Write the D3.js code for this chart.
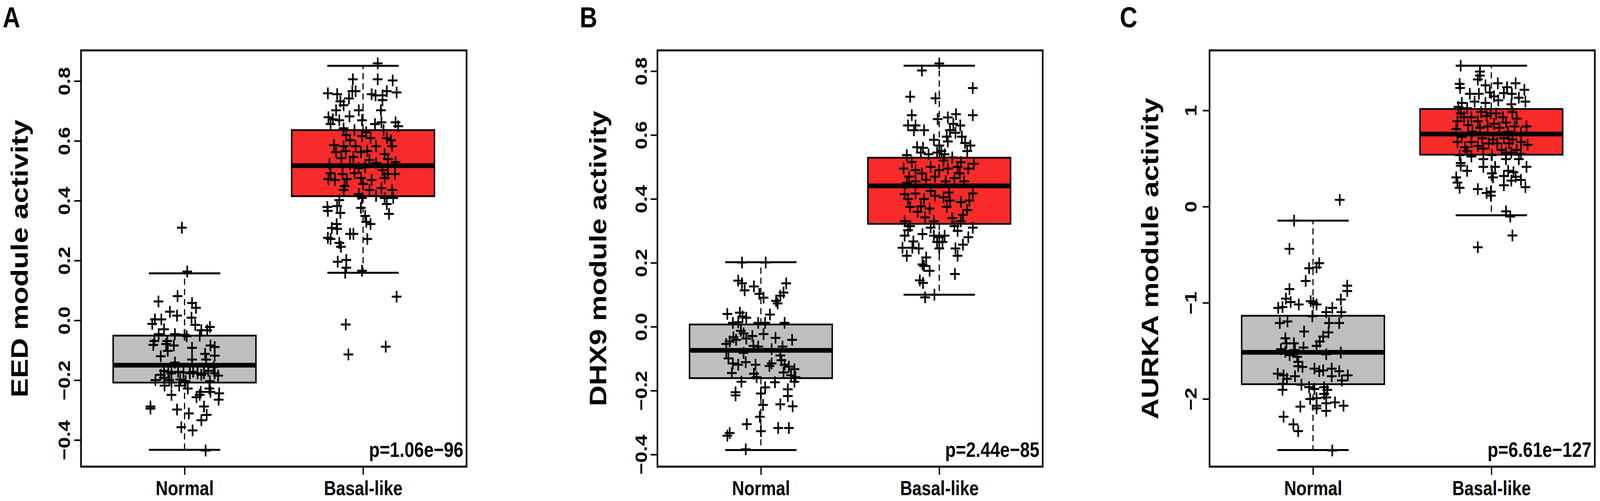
<!DOCTYPE html>
<html>
<head>
<meta charset="utf-8">
<script src="https://cdn.jsdelivr.net/npm/d3@7/dist/d3.min.js"></script>
<style>
  html, body { margin: 0; padding: 0; background: #ffffff; width: 100%; height: 100%; overflow: hidden; }
  svg { display: block; width: 100vw; height: 100vh; }
  text { font-family: "Liberation Sans", Arial, Helvetica, sans-serif; font-weight: bold; fill: #000; }
</style>
</head>
<body>
<script>
// ---------------- DATA ----------------
const categories = ["Normal", "Basal-like"];
const panelLetters = ["A", "B", "C"];
const yTitles = ["EED module activity", "DHX9 module activity", "AURKA module activity"];
const pValueLabels = ["p=1.06e\u221296", "p=2.44e\u221285", "p=6.61e\u2212127"];

const yTicksA = [-0.4, -0.2, 0.0, 0.2, 0.4, 0.6, 0.8];
const yTicksB = [-0.4, -0.2, 0.0, 0.2, 0.4, 0.6, 0.8];
const yTicksC = [-2, -1, 0, 1];
const yTickLabelsA = ["\u22120.4", "\u22120.2", "0.0", "0.2", "0.4", "0.6", "0.8"];
const yTickLabelsB = ["\u22120.4", "\u22120.2", "0.0", "0.2", "0.4", "0.6", "0.8"];
const yTickLabelsC = ["\u22122", "\u22121", "0", "1"];

// axis limits (data range extended 4%, as in R)
const yLimA = [-0.489, 0.9025];
const yLimB = [-0.438, 0.865];
const yLimC = [-2.704, 1.6245];

// box statistics: [lower whisker, Q1, median, Q3, upper whisker]
const statsA_normal = [-0.433, -0.208, -0.150, -0.051, 0.157];
const statsA_basal  = [0.159, 0.415, 0.517, 0.636, 0.851];
const statsB_normal = [-0.386, -0.161, -0.074, 0.007, 0.202];
const statsB_basal  = [0.100, 0.322, 0.441, 0.529, 0.817];
const statsC_normal = [-2.531, -1.847, -1.515, -1.135, -0.146];
const statsC_basal  = [-0.090, 0.540, 0.755, 1.015, 1.465];

// points: [horizontal jitter (group units), value]
const ptsA_normal = [[-0.015,0.310],[0.015,0.163],[-0.039,0.081],[-0.146,0.063],[0.042,0.058],[0.064,0.042],[-0.082,0.029],[-0.042,0.016],[0.039,0.009],[-0.166,0.003],[-0.130,0.003],[-0.181,-0.012],[0.060,-0.015],[0.142,-0.022],[-0.115,-0.030],[0.094,-0.033],[0.127,-0.033],[-0.145,-0.046],[-0.054,-0.046],[0.000,-0.048],[0.012,-0.053],[0.085,-0.051],[-0.169,-0.069],[-0.097,-0.069],[-0.175,-0.082],[-0.103,-0.079],[-0.060,-0.084],[0.042,-0.092],[0.145,-0.084],[0.169,-0.089],[-0.094,-0.102],[0.115,-0.112],[0.169,-0.118],[-0.133,-0.120],[0.042,-0.131],[0.121,-0.131],[-0.054,-0.141],[0.163,-0.156],[-0.115,-0.169],[-0.091,-0.172],[-0.073,-0.177],[-0.036,-0.172],[-0.006,-0.174],[0.030,-0.177],[0.048,-0.172],[0.073,-0.177],[0.094,-0.182],[0.109,-0.177],[0.133,-0.169],[0.169,-0.177],[0.188,-0.185],[-0.133,-0.182],[-0.115,-0.192],[-0.163,-0.200],[-0.085,-0.200],[-0.024,-0.198],[0.006,-0.203],[0.142,-0.203],[-0.073,-0.208],[-0.112,-0.218],[-0.030,-0.218],[0.018,-0.228],[0.139,-0.228],[0.091,-0.239],[0.145,-0.239],[-0.073,-0.249],[0.085,-0.249],[0.194,-0.244],[0.067,-0.257],[0.191,-0.265],[0.109,-0.288],[-0.191,-0.288],[-0.191,-0.295],[-0.042,-0.298],[0.024,-0.311],[0.124,-0.316],[0.094,-0.334],[-0.018,-0.357],[0.045,-0.368],[0.118,-0.435]];

const ptsA_basal = [[0.082,0.859],[-0.057,0.806],[0.082,0.806],[0.166,0.802],[-0.197,0.759],[-0.145,0.756],[-0.060,0.766],[-0.042,0.766],[0.048,0.756],[0.070,0.752],[0.109,0.752],[0.133,0.766],[0.188,0.762],[-0.127,0.732],[-0.079,0.742],[-0.109,0.719],[0.109,0.736],[-0.151,0.702],[-0.024,0.702],[0.100,0.702],[-0.076,0.682],[-0.194,0.679],[-0.169,0.672],[-0.133,0.669],[-0.006,0.669],[0.067,0.656],[0.103,0.662],[0.182,0.662],[0.197,0.649],[-0.182,0.656],[-0.109,0.642],[-0.048,0.636],[0.018,0.629],[0.115,0.636],[-0.094,0.619],[-0.006,0.616],[0.042,0.609],[0.133,0.609],[-0.073,0.602],[0.157,0.602],[-0.163,0.586],[-0.109,0.582],[-0.042,0.582],[0.073,0.582],[0.163,0.582],[-0.097,0.566],[-0.151,0.562],[-0.012,0.562],[0.024,0.566],[0.121,0.556],[0.139,0.539],[-0.121,0.542],[-0.054,0.546],[0.036,0.536],[-0.188,0.522],[-0.073,0.522],[0.073,0.526],[0.182,0.529],[-0.024,0.509],[0.012,0.512],[0.109,0.502],[-0.182,0.492],[-0.115,0.489],[-0.048,0.492],[0.139,0.489],[0.179,0.489],[-0.012,0.476],[-0.157,0.469],[-0.091,0.472],[0.048,0.469],[0.121,0.476],[0.000,0.456],[-0.194,0.472],[-0.103,0.449],[0.103,0.442],[0.163,0.436],[0.036,0.436],[-0.109,0.436],[-0.024,0.422],[0.073,0.416],[0.121,0.409],[0.169,0.409],[-0.006,0.409],[-0.133,0.402],[0.133,0.389],[-0.200,0.379],[-0.145,0.382],[-0.012,0.376],[0.145,0.356],[-0.197,0.366],[-0.127,0.359],[0.012,0.349],[0.018,0.329],[0.042,0.322],[-0.148,0.322],[-0.175,0.309],[-0.145,0.306],[-0.073,0.289],[-0.054,0.289],[-0.197,0.276],[-0.182,0.272],[0.024,0.272],[-0.133,0.259],[-0.124,0.246],[-0.142,0.196],[-0.094,0.202],[-0.094,0.176],[-0.100,0.159],[-0.006,0.166],[0.188,0.079],[-0.097,-0.014],[0.127,-0.088],[-0.082,-0.114]];

const ptsB_normal = [[-0.106,0.201],[0.027,0.201],[-0.127,0.144],[-0.106,0.136],[-0.091,0.114],[-0.039,0.126],[-0.009,0.103],[0.015,0.091],[0.142,0.136],[0.127,0.107],[0.109,0.097],[0.085,0.081],[0.094,0.073],[-0.188,0.040],[-0.118,0.044],[-0.103,0.032],[0.051,0.038],[-0.157,0.012],[-0.127,0.014],[-0.082,0.028],[-0.015,0.012],[0.024,0.012],[0.133,0.012],[-0.112,-0.013],[-0.097,-0.021],[0.015,-0.023],[-0.048,-0.029],[0.082,-0.035],[0.175,-0.041],[-0.154,-0.033],[-0.082,-0.037],[-0.194,-0.054],[-0.175,-0.046],[-0.139,-0.041],[-0.042,-0.060],[-0.015,-0.062],[0.121,-0.062],[0.060,-0.070],[-0.194,-0.078],[-0.097,-0.082],[0.109,-0.090],[-0.182,-0.099],[0.115,-0.105],[-0.157,-0.115],[-0.127,-0.119],[-0.085,-0.111],[-0.030,-0.119],[0.048,-0.123],[0.060,-0.115],[0.133,-0.119],[0.157,-0.125],[0.188,-0.133],[-0.163,-0.145],[-0.039,-0.147],[-0.024,-0.158],[0.127,-0.143],[0.169,-0.152],[0.194,-0.158],[-0.109,-0.172],[0.079,-0.174],[0.188,-0.172],[-0.142,-0.205],[-0.142,-0.215],[0.024,-0.190],[0.000,-0.209],[0.151,-0.196],[0.151,-0.217],[0.012,-0.245],[0.109,-0.243],[0.178,-0.249],[-0.006,-0.282],[-0.079,-0.305],[0.000,-0.327],[-0.175,-0.333],[-0.188,-0.341],[0.097,-0.317],[0.157,-0.317],[-0.085,-0.384]];

const ptsB_basal = [[0.000,0.824],[-0.097,0.802],[0.188,0.747],[-0.163,0.720],[-0.021,0.715],[0.188,0.662],[-0.154,0.662],[-0.009,0.650],[0.048,0.655],[0.094,0.665],[-0.175,0.630],[-0.133,0.630],[-0.085,0.615],[-0.142,0.615],[0.079,0.635],[0.118,0.630],[0.060,0.615],[0.091,0.607],[0.042,0.595],[0.127,0.595],[-0.030,0.585],[0.048,0.580],[0.145,0.575],[0.175,0.567],[-0.124,0.562],[-0.091,0.560],[0.000,0.567],[0.012,0.550],[0.157,0.550],[-0.103,0.545],[-0.182,0.537],[-0.012,0.545],[0.030,0.540],[0.073,0.530],[-0.060,0.540],[-0.154,0.515],[0.024,0.520],[0.121,0.515],[0.194,0.510],[-0.200,0.495],[-0.048,0.500],[0.048,0.495],[0.103,0.500],[-0.133,0.490],[-0.097,0.480],[0.000,0.490],[0.115,0.480],[0.163,0.495],[-0.169,0.470],[-0.024,0.470],[0.085,0.465],[-0.073,0.460],[-0.133,0.455],[0.036,0.455],[0.139,0.455],[-0.182,0.450],[-0.048,0.425],[-0.194,0.415],[-0.133,0.417],[0.054,0.420],[0.188,0.417],[-0.024,0.410],[0.024,0.405],[-0.175,0.400],[-0.085,0.400],[0.060,0.395],[0.121,0.390],[0.169,0.395],[-0.163,0.375],[-0.103,0.377],[-0.054,0.370],[0.042,0.375],[0.157,0.365],[-0.121,0.360],[0.133,0.350],[-0.079,0.342],[0.073,0.340],[-0.194,0.330],[-0.030,0.330],[0.121,0.330],[-0.163,0.315],[0.085,0.315],[0.188,0.310],[-0.048,0.310],[-0.175,0.302],[0.103,0.300],[-0.094,0.290],[-0.194,0.285],[-0.030,0.285],[0.000,0.280],[0.030,0.285],[0.163,0.280],[-0.145,0.267],[-0.012,0.265],[0.018,0.265],[0.133,0.257],[-0.206,0.247],[-0.115,0.245],[-0.151,0.247],[0.000,0.245],[0.091,0.245],[-0.182,0.222],[0.103,0.222],[-0.073,0.217],[-0.094,0.195],[-0.085,0.190],[-0.054,0.175],[0.088,0.165],[-0.109,0.145],[-0.091,0.137],[-0.079,0.092],[-0.027,0.100]];

const ptsC_normal = [[0.150,0.070],[-0.106,-0.146],[-0.132,-0.439],[0.035,-0.588],[0.020,-0.632],[-0.022,-0.641],[-0.041,-0.773],[-0.132,-0.857],[0.192,-0.822],[0.192,-0.878],[0.156,-0.966],[-0.152,-0.957],[-0.125,-0.992],[-0.080,-1.018],[-0.013,-0.983],[0.002,-1.001],[0.020,-1.018],[-0.195,-1.053],[-0.171,-1.045],[0.108,-1.053],[0.074,-1.097],[0.159,-1.097],[-0.004,-1.141],[-0.186,-1.211],[-0.143,-1.194],[0.147,-1.211],[0.090,-1.211],[-0.050,-1.299],[0.087,-1.308],[0.057,-1.352],[-0.155,-1.369],[0.038,-1.404],[-0.149,-1.422],[-0.107,-1.422],[0.020,-1.448],[-0.180,-1.483],[-0.155,-1.510],[-0.101,-1.492],[-0.053,-1.466],[0.074,-1.536],[0.156,-1.518],[-0.131,-1.545],[-0.089,-1.562],[-0.083,-1.615],[-0.059,-1.668],[-0.083,-1.659],[-0.198,-1.738],[-0.165,-1.755],[-0.146,-1.790],[-0.101,-1.764],[0.008,-1.685],[0.035,-1.711],[0.057,-1.703],[0.105,-1.685],[0.105,-1.764],[0.147,-1.711],[0.195,-1.755],[0.162,-1.808],[-0.168,-1.843],[-0.171,-1.905],[-0.065,-1.852],[-0.022,-1.878],[0.008,-1.896],[0.062,-1.878],[0.080,-1.905],[0.062,-1.948],[-0.016,-2.001],[0.020,-1.992],[0.074,-1.984],[0.123,-2.036],[0.171,-2.071],[0.074,-2.045],[0.020,-2.071],[-0.071,-2.080],[0.020,-2.098],[0.074,-2.124],[-0.165,-2.185],[-0.110,-2.264],[-0.083,-2.334],[0.108,-2.536]];

const ptsC_basal = [[-0.172,1.465],[-0.064,1.404],[-0.064,1.363],[-0.076,1.322],[-0.178,1.275],[-0.175,1.234],[-0.033,1.261],[0.036,1.282],[0.136,1.282],[0.088,1.241],[0.185,1.214],[-0.121,1.173],[-0.070,1.173],[-0.009,1.187],[0.015,1.146],[0.070,1.180],[0.115,1.173],[0.154,1.132],[0.191,1.092],[-0.166,1.078],[-0.094,1.092],[-0.033,1.078],[0.039,1.105],[0.112,1.064],[-0.185,1.037],[-0.136,1.024],[-0.057,0.983],[-0.003,0.969],[0.027,0.969],[0.118,0.983],[-0.172,0.969],[-0.154,0.929],[-0.112,0.929],[-0.027,0.942],[0.064,0.929],[0.142,0.915],[-0.190,0.888],[-0.076,0.888],[0.015,0.861],[0.082,0.874],[-0.130,0.847],[-0.197,0.806],[-0.064,0.820],[-0.021,0.834],[0.130,0.834],[0.197,0.834],[0.045,0.820],[-0.106,0.779],[0.094,0.779],[0.166,0.766],[-0.166,0.725],[-0.051,0.711],[0.009,0.698],[0.070,0.711],[0.118,0.698],[-0.190,0.671],[-0.112,0.671],[-0.015,0.657],[0.033,0.657],[0.100,0.657],[0.166,0.671],[0.203,0.643],[-0.148,0.616],[-0.076,0.630],[-0.136,0.576],[-0.045,0.603],[0.057,0.589],[0.142,0.589],[0.082,0.562],[0.112,0.562],[-0.178,0.535],[-0.112,0.521],[0.003,0.535],[0.166,0.548],[-0.045,0.494],[0.082,0.494],[0.154,0.494],[-0.172,0.453],[0.197,0.413],[0.021,0.413],[-0.045,0.413],[-0.172,0.426],[-0.136,0.372],[0.094,0.372],[0.124,0.358],[0.003,0.345],[0.070,0.318],[0.136,0.311],[-0.197,0.304],[0.166,0.277],[0.009,0.304],[0.112,0.270],[-0.190,0.250],[0.191,0.202],[0.070,0.222],[-0.178,0.195],[-0.076,0.182],[-0.027,0.141],[-0.003,0.114],[-0.003,0.155],[0.082,-0.049],[0.106,-0.103],[0.118,-0.300],[-0.076,-0.423]];

// ---------------- BUILD ----------------
const W = 4938, H = 1283;
const frameTop = 129, frameBottom = 1195;
const xDomain = [0.42, 2.58];
const boxHalf = 0.4, stapleHalf = 0.2;
const fills = ["#bebebe", "#f92a2a"];

const layout = [
  { left: 250,  right: 1440, letterX: 8,    titleX: 86,   tickLabX: 216 },
  { left: 2029, right: 3218, letterX: 1789, titleX: 1871, tickLabX: 1997 },
  { left: 3733, right: 4922, letterX: 3456, titleX: 3575, tickLabX: 3693 }
];

const panels = [
  { yLim: yLimA, ticks: yTicksA, tickLabels: yTickLabelsA, stats: [statsA_normal, statsA_basal], pts: [ptsA_normal, ptsA_basal] },
  { yLim: yLimB, ticks: yTicksB, tickLabels: yTickLabelsB, stats: [statsB_normal, statsB_basal], pts: [ptsB_normal, ptsB_basal] },
  { yLim: yLimC, ticks: yTicksC, tickLabels: yTickLabelsC, stats: [statsC_normal, statsC_basal], pts: [ptsC_normal, ptsC_basal] }
];

// The drawing uses a fixed 4938 x 1283 coordinate system that is fitted to the window.
const svg = d3.select("body").append("svg")
  .attr("viewBox", `0 0 ${W} ${H}`)
  .attr("preserveAspectRatio", "none");

svg.append("rect").attr("width", W).attr("height", H).attr("fill", "#fff");

panels.forEach((p, i) => {
  const L = layout[i];
  const x = d3.scaleLinear().domain(xDomain).range([L.left, L.right]);
  const y = d3.scaleLinear().domain(p.yLim).range([frameBottom, frameTop]);
  const g = svg.append("g");

  // boxes
  p.stats.forEach((s, k) => {
    const c = k + 1;
    const [lo, q1, med, q3, hi] = s;
    g.append("line").attr("x1", x(c)).attr("x2", x(c)).attr("y1", y(q3)).attr("y2", y(hi))
      .attr("stroke", "#000").attr("stroke-width", 3.5).attr("stroke-dasharray", "16,10");
    g.append("line").attr("x1", x(c)).attr("x2", x(c)).attr("y1", y(q1)).attr("y2", y(lo))
      .attr("stroke", "#000").attr("stroke-width", 3.5).attr("stroke-dasharray", "16,10");
    [lo, hi].forEach(v => {
      g.append("line").attr("x1", x(c - stapleHalf)).attr("x2", x(c + stapleHalf))
        .attr("y1", y(v)).attr("y2", y(v))
        .attr("stroke", "#000").attr("stroke-width", 5);
    });
    g.append("rect").attr("x", x(c - boxHalf)).attr("y", y(q3))
      .attr("width", x(c + boxHalf) - x(c - boxHalf)).attr("height", y(q1) - y(q3))
      .attr("fill", fills[k]).attr("stroke", "#000").attr("stroke-width", 4.5);
    g.append("line").attr("x1", x(c - boxHalf)).attr("x2", x(c + boxHalf))
      .attr("y1", y(med)).attr("y2", y(med))
      .attr("stroke", "#000").attr("stroke-width", 12);
  });

  // points (pch = 3)
  const arm = 15;
  p.pts.forEach((arr, k) => {
    const c = k + 1;
    g.append("g").selectAll("path").data(arr).join("path")
      .attr("d", d => {
        const px = x(c + d[0]), py = y(d[1]);
        return `M${px - arm},${py}H${px + arm}M${px},${py - arm}V${py + arm}`;
      })
      .attr("stroke", "#000").attr("stroke-width", 5).attr("fill", "none");
  });

  // frame
  g.append("rect").attr("x", L.left).attr("y", frameTop)
    .attr("width", L.right - L.left).attr("height", frameBottom - frameTop)
    .attr("fill", "none").attr("stroke", "#000").attr("stroke-width", 5);

  // y axis
  const yAxis = d3.axisLeft(y).tickValues(p.ticks).tickSize(21)
    .tickFormat((d, j) => p.tickLabels[j]);
  const ya = g.append("g").attr("transform", `translate(${L.left},0)`).call(yAxis);
  ya.select(".domain").remove();
  ya.selectAll(".tick line").attr("stroke", "#000").attr("stroke-width", 4);
  ya.selectAll(".tick text")
    .attr("transform", "rotate(-90)")
    .attr("x", 0).attr("y", -(L.left - L.tickLabX)).attr("dy", 0)
    .attr("text-anchor", "middle")
    .style("font-size", "52px").style("font-weight", "bold")
    .style("font-family", '"Liberation Sans", Arial, sans-serif').attr("fill", "#000");

  // x axis
  const xAxis = d3.axisBottom(x).tickValues([1, 2]).tickSize(21)
    .tickFormat((d, j) => categories[j]);
  const xa = g.append("g").attr("transform", `translate(0,${frameBottom})`).call(xAxis);
  xa.select(".domain").remove();
  xa.selectAll(".tick line").attr("stroke", "#000").attr("stroke-width", 4);
  xa.selectAll(".tick text")
    .attr("y", 73).attr("dy", 0)
    .style("font-size", "52px").style("font-weight", "bold")
    .style("font-family", '"Liberation Sans", Arial, sans-serif').attr("fill", "#000");

  // y title
  g.append("text")
    .attr("transform", `translate(${L.titleX},${(frameTop + frameBottom) / 2}) rotate(-90)`)
    .attr("text-anchor", "middle")
    .style("font-size", "74px")
    .text(yTitles[i]);

  // panel letter
  g.append("text").attr("x", L.letterX).attr("y", 70)
    .style("font-size", "75px").text(panelLetters[i]);

  // p-value
  g.append("text").attr("x", L.right - 10).attr("y", 1170)
    .attr("text-anchor", "end").style("font-size", "54px")
    .text(pValueLabels[i]);
});
</script>
</body>
</html>
